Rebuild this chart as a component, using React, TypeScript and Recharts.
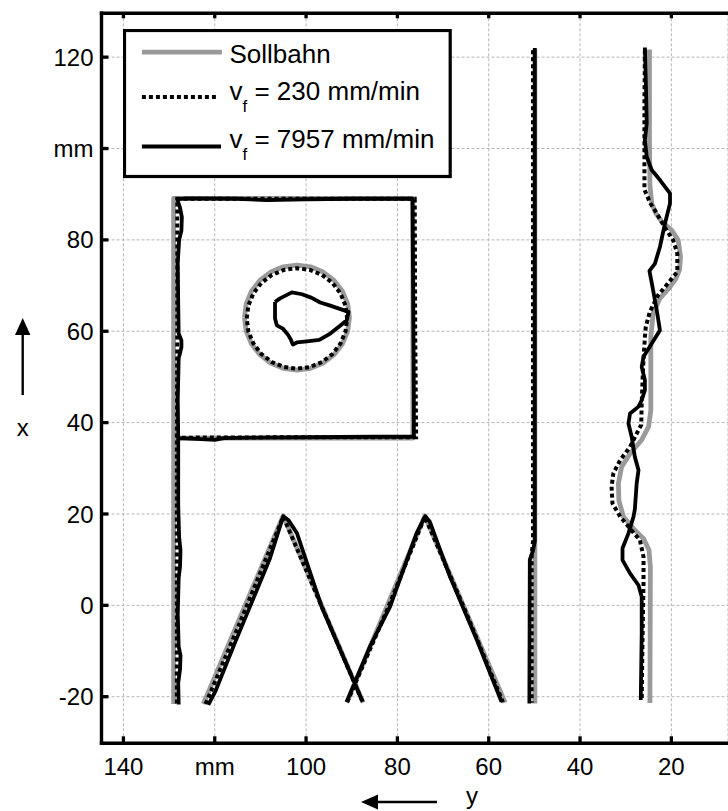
import React from 'react';
import { LineChart, Line, XAxis, YAxis, CartesianGrid, Legend } from 'recharts';

type P = [number, number];

// horizontal axis: y [mm] (reversed), vertical axis: x [mm]
const X_DOMAIN: [number, number] = [7.6, 144.8];
const Y_DOMAIN: [number, number] = [-30.2, 129.6];
const X_TICKS = [140, 120, 100, 80, 60, 40, 20];
const X_TICK_LABELS = ['140', 'mm', '100', '80', '60', '40', '20'];
const Y_TICKS = [-20, 0, 20, 40, 60, 80, 100, 120];
const Y_TICK_LABELS = ['-20', '0', '20', '40', '60', '80', 'mm', '120'];

const SERIES_NAMES = ['Sollbahn', 'v_f = 230 mm/min', 'v_f = 7957 mm/min'];

// ---- Sollbahn (target path)
const SOLL_FRAME: P[] = [[129, -21.6], [129, 89.1], [76.6, 89.1], [76.6, 36.6], [129, 36.6]];
const SOLL_CIRCLE: P[] = [
  [113.5, 63], [113.11, 65.98], [111.96, 68.75], [110.13, 71.13], [107.75, 72.96], [104.98, 74.11],
  [102, 74.5], [99.02, 74.11], [96.25, 72.96], [93.87, 71.13], [92.04, 68.75], [90.89, 65.98],
  [90.5, 63], [90.89, 60.02], [92.04, 57.25], [93.87, 54.87], [96.25, 53.04], [99.02, 51.89],
  [102, 51.5], [104.98, 51.89], [107.75, 53.04], [110.13, 54.87], [111.96, 57.25], [113.11, 60.02], [113.5, 63],
];
const SOLL_ZIG_A: P[] = [[122.5, -21.6], [105, 19.6], [87.5, -21.3]];
const SOLL_ZIG_B: P[] = [[91.1, -21.3], [74, 19.6], [56.4, -21.3]];
const SOLL_LINE: P[] = [[49.9, -21.5], [49.9, 121.8]];
const SOLL_WAVE: P[] = [
  [24.8, 121.7], [24.8, 102], [24.7, 92], [24.3, 88], [23.4, 85.8], [22.1, 84], [19.9, 82.1], [18.5, 79.9],
  [18.0, 76.3], [18.2, 73.5], [19.0, 71.5], [20.3, 69.7], [22.5, 67.2], [24.0, 63.9], [24.5, 58.8], [24.5, 51.5],
  [24.5, 42.7], [25.0, 39.1], [26.5, 36.2], [29.0, 33.3], [30.9, 30.3], [31.6, 26.7], [31.5, 23], [30.5, 19.4],
  [28.3, 16.8], [26.1, 14.6], [24.9, 12.1], [24.6, 8.4], [24.7, -21.4],
];

// ---- v_f = 230 mm/min
const SLOW_FRAME: P[] = [[128.3, -21.5], [128.3, 36.6], [128.2, 60], [128.2, 89], [100, 89], [76.2, 89], [76.1, 60], [75.9, 36.8], [100, 36.8], [128.3, 36.7]];
const SLOW_CIRCLE: P[] = [
  [113, 62.8], [112.63, 65.65], [111.53, 68.3], [109.78, 70.58], [107.5, 72.33], [104.85, 73.43],
  [102, 73.8], [99.15, 73.43], [96.5, 72.33], [94.22, 70.58], [92.47, 68.3], [91.37, 65.65],
  [91, 62.8], [91.37, 59.95], [92.47, 57.3], [94.22, 55.02], [96.5, 53.27], [99.15, 52.17],
  [102, 51.8], [104.85, 52.17], [107.5, 53.27], [109.78, 55.02], [111.53, 57.3], [112.63, 59.95], [113, 62.8],
];
const SLOW_ZIG_A: P[] = [[122.0, -21.6], [115, -5], [105, 19.4], [96.5, -0.4], [87.6, -21.2]];
const SLOW_ZIG_B: P[] = [[91.0, -21.2], [82, -0.4], [74, 19.4], [65, -1.5], [56.9, -21.2]];
const SLOW_LINE: P[] = [[50.3, 121.5], [50.3, 14], [50.6, 11], [50.6, -21.3]];
const SLOW_WAVE: P[] = [
  [25.8, 121.5], [25.9, 110], [25.9, 99], [25.9, 91], [24.6, 88], [23.2, 85.8], [21.3, 82.5], [19.6, 79.9],
  [18.7, 77], [18.7, 73], [19.6, 71.9], [21.4, 69.7], [22.9, 67.9], [24.7, 64.3], [25.6, 61], [25.8, 58.8],
  [26.2, 52], [26.5, 44.2], [26.6, 39.5], [27.6, 37.6], [29.05, 34.7], [31.2, 31.8], [32.7, 28.9], [33.1, 26],
  [32.9, 22.3], [31.2, 19.4], [29.05, 16.8], [26.9, 14.3], [26.1, 10.6], [26.1, 4.8], [26.3, -6.1], [26.5, -20.9],
];

// ---- v_f = 7957 mm/min
const FAST_FRAME: P[] = [
  [127.9, -21.7], [128.0, -17], [127.6, -14], [127.5, -11], [127.9, -9], [128.1, -2], [127.9, 6], [127.6, 8.5],
  [127.5, 12], [127.8, 15], [128.0, 22], [128.0, 30], [128.0, 36.6], [128.1, 45], [127.9, 54], [127.3, 56.5],
  [127.3, 58], [127.9, 59.5], [128.0, 66], [128.1, 75], [127.8, 80], [127.3, 82], [127.2, 85], [127.6, 87],
  [128.2, 88.9], [126, 89.1], [115, 89], [108.6, 88.7], [100, 88.9], [90, 89], [76.7, 89], [76.6, 75],
  [76.5, 60], [76.4, 45], [76.4, 36.9], [85, 36.9], [100, 36.8], [112, 36.7], [118, 36.6], [120, 36.2],
  [123, 36.4], [128, 36.6],
];
const FAST_SHAPE: P[] = [
  [106.8, 66.4], [105.7, 67.2], [103.1, 68.5], [100.9, 68.1], [98.75, 67.3], [96.9, 66.3], [94.7, 65.6],
  [90.7, 64.25], [91.1, 62.4], [92.55, 61.2], [94.7, 59.5], [97.1, 58.1], [99.8, 57.8], [102.0, 57.55],
  [102.9, 57.1], [103.3, 58.1], [103.9, 59.15], [105.0, 60.5], [106.4, 61.3], [106.8, 62.8], [106.8, 66.4],
];
const FAST_ZIG_A: P[] = [[121.4, -21.8], [119.9, -18.9], [115.5, -8], [110.8, 3.3], [107.9, 10.3], [105.0, 19.5], [103.9, 18.7], [102.0, 15.8], [96.6, -0.3], [87.6, -21.1]];
const FAST_ZIG_B: P[] = [[91.1, -21.1], [86, -9], [81.6, -0.3], [75.8, 15.8], [73.9, 19.5], [72.9, 18.3], [68.5, 6.3], [62.6, -7.6], [57.2, -21.1]];
const FAST_LINE: P[] = [[49.9, 122], [49.9, 14], [50.3, 12], [51.0, 10], [51.1, -21.5]];
const FAST_WAVE: P[] = [
  [25.8, 122.1], [25.55, 112.8], [25.4, 105.5], [25.8, 101.8], [25.4, 98.2], [24.3, 95.3], [22.5, 93.1],
  [20.3, 90.2], [20.3, 88], [21.4, 83.6], [22.5, 78.5], [23.6, 74.8], [24.8, 73.2], [24.0, 69], [23.2, 64.6],
  [22.5, 60.2], [24.3, 57.3], [26.1, 54.4], [26.5, 52.2], [25.8, 49.3], [25.8, 47.1], [26.5, 44.9], [27.2, 43.5],
  [29.05, 42], [29.4, 39.8], [28.7, 36.9], [28, 32.5], [27.2, 29.6], [27.6, 26.7], [28, 21], [28.3, 19.4],
  [29.4, 15.75], [30.7, 12.5], [30.7, 9.9], [29.05, 7], [27.2, 4.4], [26.5, 1.9], [26.5, -6.1], [26.7, -20.7],
];

type Pt = { h: number | null; v: number | null };
const toSeries = (segs: P[][]): Pt[] =>
  segs.flatMap((seg, i) => [
    ...(i > 0 ? [{ h: null, v: null }] : []),
    ...seg.map(([h, v]) => ({ h, v })),
  ]);

const SOLL_DATA = toSeries([SOLL_FRAME, SOLL_CIRCLE, SOLL_ZIG_A, SOLL_ZIG_B, SOLL_LINE, SOLL_WAVE]);
const SLOW_DATA = toSeries([SLOW_FRAME, SLOW_CIRCLE, SLOW_ZIG_A, SLOW_ZIG_B, SLOW_LINE, SLOW_WAVE]);
const FAST_DATA = toSeries([FAST_FRAME, FAST_SHAPE, FAST_ZIG_A, FAST_ZIG_B, FAST_LINE, FAST_WAVE]);

const FONT = '"Liberation Sans", Arial, Helvetica, sans-serif';
const GRAY = '#9a9a9a';
const PLOT = { left: 101.5, top: 13.3, bottom: 743.3 };
const DOT_DASH = '4 3';

const BottomTick = (props: any) => {
  const { x, payload } = props;
  const i = X_TICKS.indexOf(payload.value);
  return (
    <g>
      <line x1={x} x2={x} y1={PLOT.bottom} y2={PLOT.bottom - 7} stroke="#000" strokeWidth={3.3} />
      <text x={x} y={775} textAnchor="middle" fontSize={24} fontFamily={FONT} fill="#000">
        {X_TICK_LABELS[i]}
      </text>
    </g>
  );
};

const TopTick = (props: any) => {
  const { x } = props;
  return <line x1={x} x2={x} y1={PLOT.top} y2={PLOT.top + 5} stroke="#000" strokeWidth={3.3} />;
};

const LeftTick = (props: any) => {
  const { y, payload } = props;
  const i = Y_TICKS.indexOf(payload.value);
  return (
    <g>
      <line x1={PLOT.left} x2={PLOT.left + 7} y1={y} y2={y} stroke="#000" strokeWidth={3.3} />
      <text x={93.5} y={y + 8.6} textAnchor="end" fontSize={24} fontFamily={FONT} fill="#000">
        {Y_TICK_LABELS[i]}
      </text>
    </g>
  );
};

const YTitle = () => (
  <g>
    <line x1={22.7} x2={22.7} y1={395} y2={332} stroke="#000" strokeWidth={2.4} />
    <polygon points="22.7,318 15,335 30.4,335" fill="#000" />
    <text x={22.7} y={436} textAnchor="middle" fontSize={24} fontFamily={FONT} fill="#000">x</text>
  </g>
);

const XTitle = () => (
  <g>
    <line x1={437} x2={374} y1={802} y2={802} stroke="#000" strokeWidth={2.4} />
    <polygon points="361,802 378,794.5 378,809.5" fill="#000" />
    <text x={472} y={804} textAnchor="middle" fontSize={24} fontFamily={FONT} fill="#000">y</text>
  </g>
);

const LegendLabel = ({ name, x, y }: { name: string; x: number; y: number }) => {
  const sub = name.indexOf('_');
  if (sub < 0) {
    return (
      <text x={x} y={y} fontSize={26} fontFamily={FONT} fill="#000">{name}</text>
    );
  }
  return (
    <text x={x} y={y} fontSize={26} fontFamily={FONT} fill="#000">
      {name.slice(0, sub)}
      <tspan fontSize={17} dy={12}>{name.slice(sub + 1, sub + 2)}</tspan>
      <tspan dy={-12}>{name.slice(sub + 2)}</tspan>
    </text>
  );
};

const LEGEND_ROWS = [
  { lineY: 23.1, textY: 33.5, x2: 98.9 },
  { lineY: 68.1, textY: 70.8, x2: 95.2 },
  { lineY: 117.5, textY: 119.1, x2: 98 },
];

const renderLegend = (props: any) => {
  const payload = props.payload || [];
  return (
    <svg width={330} height={150} style={{ display: 'block' }}>
      <rect x={1.5} y={1.5} width={325.7} height={146} fill="#fff" stroke="#000" strokeWidth={3.2} />
      {payload.map((p: any, i: number) => {
        const row = LEGEND_ROWS[i] || LEGEND_ROWS[0];
        const dash = p.payload && p.payload.strokeDasharray;
        const w = (p.payload && p.payload.strokeWidth) || 3;
        return (
          <g key={i}>
            <line x1={18.9} x2={row.x2} y1={row.lineY} y2={row.lineY} stroke={p.color} strokeWidth={w} strokeDasharray={dash} />
            <LegendLabel name={String(p.value)} x={106.5} y={row.textY} />
          </g>
        );
      })}
    </svg>
  );
};

export default function App() {
  return (
    <div style={{ position: 'absolute', left: 0, top: 0, width: 728, height: 811, overflow: 'hidden', background: '#fff' }}>
      <LineChart width={728} height={811} margin={{ top: 3.3, right: 0, bottom: 37.7, left: 41.5 }}>
        <CartesianGrid stroke="#b5b5b5" strokeWidth={1} strokeDasharray="3 2" />
        <XAxis
          dataKey="h"
          type="number"
          domain={X_DOMAIN}
          allowDataOverflow
          reversed
          ticks={X_TICKS}
          interval={0}
          height={30}
          tickLine={false}
          tickSize={0}
          axisLine={{ stroke: '#000', strokeWidth: 3.4, strokeLinecap: 'square' }}
          tick={<BottomTick />}
          label={{ content: () => <XTitle /> }}
        />
        <XAxis
          xAxisId="top"
          orientation="top"
          dataKey="h"
          type="number"
          domain={X_DOMAIN}
          allowDataOverflow
          reversed
          ticks={X_TICKS}
          interval={0}
          height={10}
          tickLine={false}
          tickSize={0}
          axisLine={{ stroke: '#000', strokeWidth: 3.4, strokeLinecap: 'square' }}
          tick={<TopTick />}
        />
        <YAxis
          type="number"
          domain={Y_DOMAIN}
          allowDataOverflow
          ticks={Y_TICKS}
          interval={0}
          width={60}
          tickLine={false}
          tickSize={0}
          axisLine={{ stroke: '#000', strokeWidth: 3.4, strokeLinecap: 'square' }}
          tick={<LeftTick />}
          label={{ content: () => <YTitle /> }}
        />
        <Legend
          layout="horizontal"
          verticalAlign="middle"
          align="center"
          content={renderLegend}
          wrapperStyle={{ position: 'absolute', left: 122.8, top: 29.2, width: 330, height: 150 }}
        />
        <Line
          name={SERIES_NAMES[0]}
          data={SOLL_DATA}
          dataKey="v"
          stroke={GRAY}
          strokeWidth={4.8}
          strokeLinejoin="round"
          dot={false}
          activeDot={false}
          isAnimationActive={false}
        />
        <Line
          name={SERIES_NAMES[1]}
          data={SLOW_DATA}
          dataKey="v"
          stroke="#000"
          strokeWidth={4}
          strokeDasharray={DOT_DASH}
          dot={false}
          activeDot={false}
          isAnimationActive={false}
        />
        <Line
          name={SERIES_NAMES[2]}
          data={FAST_DATA}
          dataKey="v"
          stroke="#000"
          strokeWidth={3.8}
          strokeLinejoin="round"
          dot={false}
          activeDot={false}
          isAnimationActive={false}
        />
      </LineChart>
    </div>
  );
}
